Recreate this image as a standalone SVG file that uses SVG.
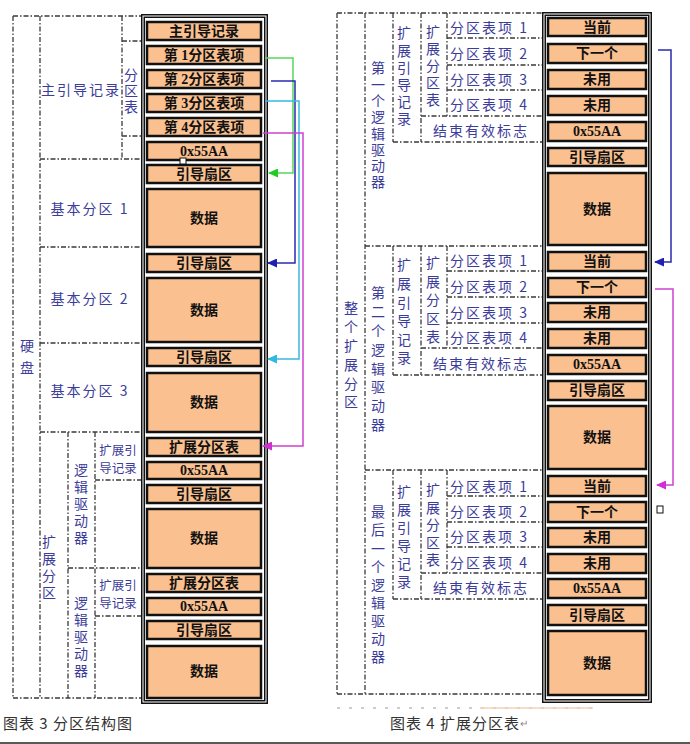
<svg xmlns="http://www.w3.org/2000/svg" width="690" height="744" viewBox="0 0 690 744">
<defs>
<style>
.dl{stroke:#3a3a3a;stroke-width:1.3;stroke-dasharray:5 2 1.5 2;fill:none}
.bx{fill:#FAC08F;stroke:#111;stroke-width:2.5}
.fo{fill:#fff;stroke:#111;stroke-width:4}
.fi{fill:none;stroke:#fff;stroke-width:1}
.bt{font-family:'Liberation Serif','Noto Sans CJK SC',serif;font-weight:bold;font-size:14px;text-anchor:middle;dominant-baseline:central;fill:#111}
.lb{font-family:'Noto Sans CJK SC',sans-serif;font-size:14px;fill:#3c3c9a;dominant-baseline:central;text-anchor:middle}
.vt{font-family:'Noto Sans CJK SC',sans-serif;font-size:14px;fill:#3c3c9a;dominant-baseline:central;text-anchor:start;writing-mode:vertical-rl}
.rl{font-family:'Noto Sans CJK SC',sans-serif;font-size:14px;fill:#3c3c9a;dominant-baseline:central;text-anchor:start;letter-spacing:2px}
.sm{font-family:'Noto Sans CJK SC',sans-serif;font-size:12.5px;fill:#3c3c9a;dominant-baseline:central;text-anchor:middle}
.cap{font-family:'Noto Sans CJK SC',sans-serif;font-size:15px;fill:#333;dominant-baseline:central;letter-spacing:1px}
.ar{fill:none;stroke-width:1.5}
</style>
<marker id="mG" markerUnits="userSpaceOnUse" markerWidth="10" markerHeight="9" refX="9" refY="4.5" orient="auto"><path d="M0,0 L10,4.5 L0,9 z" fill="#22cc22"/></marker>
<marker id="mB" markerUnits="userSpaceOnUse" markerWidth="10" markerHeight="9" refX="9" refY="4.5" orient="auto"><path d="M0,0 L10,4.5 L0,9 z" fill="#2020b0"/></marker>
<marker id="mC" markerUnits="userSpaceOnUse" markerWidth="10" markerHeight="9" refX="9" refY="4.5" orient="auto"><path d="M0,0 L10,4.5 L0,9 z" fill="#30b8e0"/></marker>
<marker id="mM" markerUnits="userSpaceOnUse" markerWidth="10" markerHeight="9" refX="9" refY="4.5" orient="auto"><path d="M0,0 L10,4.5 L0,9 z" fill="#d030d0"/></marker>
</defs>
<rect width="690" height="744" fill="#fff"/>

<!-- LEFT structure (dash-dot) -->
<g id="left-structure">
<path class="dl" d="M13,16 H142 M13,16 V698 M13,698 H142 M40,16 V698 M122,16 V159 M122,41 H142 M122,136 H142 M40,159 H142 M40,247 H142 M40,343 H142 M40,432 H142 M68,432 V698 M95,432 V698 M68,568 H142 M95,480 H142 M95,616 H142"/>
<text class="vt" x="27" y="339" style="letter-spacing:8px">硬盘</text>
<text class="lb" x="81" y="89" style="letter-spacing:2px">主引导记录</text>
<text class="vt" x="131" y="68" style="letter-spacing:2px">分区表</text>
<text class="lb" x="90" y="208" style="letter-spacing:2px">基本分区 1</text>
<text class="lb" x="90" y="298" style="letter-spacing:2px">基本分区 2</text>
<text class="lb" x="90" y="390" style="letter-spacing:2px">基本分区 3</text>
<text class="sm" x="118" y="449">扩展引</text>
<text class="sm" x="118" y="467">导记录</text>
<text class="sm" x="118" y="584">扩展引</text>
<text class="sm" x="118" y="602">导记录</text>
<text class="vt" x="81" y="463" style="letter-spacing:3px">逻辑驱动器</text>
<text class="vt" x="81" y="596" style="letter-spacing:3px">逻辑驱动器</text>
<text class="vt" x="49" y="535" style="letter-spacing:3px">扩展分区</text>
</g>

<!-- LEFT column -->
<g id="left-column">
<rect class="fo" x="143" y="16" width="123" height="686"/>
<rect class="fi" x="143" y="16" width="123" height="686"/>
</g>
<g id="L-mbr"><rect class="bx" x="147" y="22" width="114" height="18"/><text class="bt" x="204" y="31">主引导记录</text></g>
<g id="L-pt1"><rect class="bx" x="147" y="46" width="114" height="18"/><text class="bt" x="204" y="55">第 1分区表项</text></g>
<g id="L-pt2"><rect class="bx" x="147" y="70" width="114" height="18"/><text class="bt" x="204" y="79">第 2分区表项</text></g>
<g id="L-pt3"><rect class="bx" x="147" y="94" width="114" height="18"/><text class="bt" x="204" y="103">第 3分区表项</text></g>
<g id="L-pt4"><rect class="bx" x="147" y="118" width="114" height="18"/><text class="bt" x="204" y="127">第 4分区表项</text></g>
<g id="L-sig0"><rect class="bx" x="147" y="142" width="114" height="18"/><text class="bt" x="204" y="151">0x55AA</text></g>
<g id="L-boot1"><rect class="bx" x="147" y="165" width="114" height="18"/><text class="bt" x="204" y="174">引导扇区</text></g>
<g id="L-data1"><rect class="bx" x="147" y="189" width="114" height="58"/><text class="bt" x="204" y="218">数据</text></g>
<g id="L-boot2"><rect class="bx" x="147" y="254" width="114" height="18"/><text class="bt" x="204" y="263">引导扇区</text></g>
<g id="L-data2"><rect class="bx" x="147" y="278" width="114" height="64"/><text class="bt" x="204" y="310">数据</text></g>
<g id="L-boot3"><rect class="bx" x="147" y="348" width="114" height="18"/><text class="bt" x="204" y="357">引导扇区</text></g>
<g id="L-data3"><rect class="bx" x="147" y="373" width="114" height="59"/><text class="bt" x="204" y="402">数据</text></g>
<g id="L-ext1"><rect class="bx" x="147" y="438" width="114" height="18"/><text class="bt" x="204" y="447">扩展分区表</text></g>
<g id="L-sig1"><rect class="bx" x="147" y="462" width="114" height="17"/><text class="bt" x="204" y="470">0x55AA</text></g>
<g id="L-boot4"><rect class="bx" x="147" y="485" width="114" height="18"/><text class="bt" x="204" y="494">引导扇区</text></g>
<g id="L-data4"><rect class="bx" x="147" y="509" width="114" height="59"/><text class="bt" x="204" y="538">数据</text></g>
<g id="L-ext2"><rect class="bx" x="147" y="574" width="114" height="18"/><text class="bt" x="204" y="583">扩展分区表</text></g>
<g id="L-sig2"><rect class="bx" x="147" y="598" width="114" height="17"/><text class="bt" x="204" y="606">0x55AA</text></g>
<g id="L-boot5"><rect class="bx" x="147" y="621" width="114" height="18"/><text class="bt" x="204" y="630">引导扇区</text></g>
<g id="L-data5"><rect class="bx" x="147" y="646" width="114" height="52"/><text class="bt" x="204" y="671">数据</text></g>
<rect x="180" y="158" width="6" height="6" fill="#fff" stroke="#111" stroke-width="1"/>

<!-- RIGHT structure -->
<g id="right-structure">
<path class="dl" d="M337,13 H542 M337,13 V694 M337,694 H542 M365,13 V694
M393,13 V142 M421,13 V142 M447,13 V116 M447,38 H542 M447,65 H542 M447,90 H542 M421,116 H542 M393,142 H542 M365,246 H542
M393,246 V375 M421,246 V375 M447,246 V348 M447,271 H542 M447,297 H542 M447,323 H542 M421,348 H542 M393,375 H542 M365,470 H542
M393,470 V599 M421,470 V599 M447,470 V573 M447,496 H542 M447,522 H542 M447,547 H542 M421,573 H542 M393,599 H542"/>
<text class="vt" x="351" y="301" style="letter-spacing:4.8px">整个扩展分区</text>
<text class="vt" x="378" y="61" style="letter-spacing:2.3px">第一个逻辑驱动器</text>
<text class="vt" x="404" y="26" style="letter-spacing:3.2px">扩展引导记录</text>
<text class="vt" x="433" y="25" style="letter-spacing:3px">扩展分区表</text>
<text class="rl" x="450" y="27">分区表项 1</text>
<text class="rl" x="450" y="53">分区表项 2</text>
<text class="rl" x="450" y="79">分区表项 3</text>
<text class="rl" x="450" y="104">分区表项 4</text>
<text class="lb" x="481" y="130" style="letter-spacing:2px">结束有效标志</text>

<text class="vt" x="378" y="286" style="letter-spacing:4.8px">第二个逻辑驱动器</text>
<text class="vt" x="404" y="258" style="letter-spacing:4.6px">扩展引导记录</text>
<text class="vt" x="433" y="256" style="letter-spacing:4.5px">扩展分区表</text>
<text class="rl" x="450" y="260">分区表项 1</text>
<text class="rl" x="450" y="286">分区表项 2</text>
<text class="rl" x="450" y="312">分区表项 3</text>
<text class="rl" x="450" y="337">分区表项 4</text>
<text class="lb" x="481" y="363" style="letter-spacing:2px">结束有效标志</text>

<text class="vt" x="378" y="505" style="letter-spacing:4.1px">最后一个逻辑驱动器</text>
<text class="vt" x="404" y="485" style="letter-spacing:4px">扩展引导记录</text>
<text class="vt" x="433" y="483" style="letter-spacing:3.5px">扩展分区表</text>
<text class="rl" x="450" y="486">分区表项 1</text>
<text class="rl" x="450" y="511">分区表项 2</text>
<text class="rl" x="450" y="536">分区表项 3</text>
<text class="rl" x="450" y="562">分区表项 4</text>
<text class="lb" x="481" y="587" style="letter-spacing:2px">结束有效标志</text>
</g>

<!-- RIGHT column -->
<g id="right-column">
<rect class="fo" x="544" y="14" width="106" height="687"/>
<rect class="fi" x="544" y="14" width="106" height="687"/>
</g>
<g id="R1-cur"><rect class="bx" x="548" y="18" width="98" height="18"/><text class="bt" x="597" y="27">当前</text></g>
<g id="R1-next"><rect class="bx" x="548" y="44" width="98" height="19"/><text class="bt" x="597" y="53">下一个</text></g>
<g id="R1-u1"><rect class="bx" x="548" y="70" width="98" height="19"/><text class="bt" x="597" y="79">未用</text></g>
<g id="R1-u2"><rect class="bx" x="548" y="96" width="98" height="19"/><text class="bt" x="597" y="105">未用</text></g>
<g id="R1-sig"><rect class="bx" x="548" y="122" width="98" height="19"/><text class="bt" x="597" y="131">0x55AA</text></g>
<g id="R1-boot"><rect class="bx" x="548" y="148" width="98" height="18"/><text class="bt" x="597" y="157">引导扇区</text></g>
<g id="R1-data"><rect class="bx" x="548" y="173" width="98" height="72"/><text class="bt" x="597" y="209">数据</text></g>

<g id="R2-cur"><rect class="bx" x="548" y="252" width="98" height="19"/><text class="bt" x="597" y="261">当前</text></g>
<g id="R2-next"><rect class="bx" x="548" y="278" width="98" height="19"/><text class="bt" x="597" y="287">下一个</text></g>
<g id="R2-u1"><rect class="bx" x="548" y="303" width="98" height="19"/><text class="bt" x="597" y="312">未用</text></g>
<g id="R2-u2"><rect class="bx" x="548" y="329" width="98" height="19"/><text class="bt" x="597" y="338">未用</text></g>
<g id="R2-sig"><rect class="bx" x="548" y="355" width="98" height="19"/><text class="bt" x="597" y="364">0x55AA</text></g>
<g id="R2-boot"><rect class="bx" x="548" y="381" width="98" height="19"/><text class="bt" x="597" y="390">引导扇区</text></g>
<g id="R2-data"><rect class="bx" x="548" y="406" width="98" height="63"/><text class="bt" x="597" y="437">数据</text></g>

<g id="R3-cur"><rect class="bx" x="548" y="476" width="98" height="20"/><text class="bt" x="597" y="486">当前</text></g>
<g id="R3-next"><rect class="bx" x="548" y="502" width="98" height="20"/><text class="bt" x="597" y="512">下一个</text></g>
<g id="R3-u1"><rect class="bx" x="548" y="528" width="98" height="19"/><text class="bt" x="597" y="537">未用</text></g>
<g id="R3-u2"><rect class="bx" x="548" y="554" width="98" height="19"/><text class="bt" x="597" y="563">未用</text></g>
<g id="R3-sig"><rect class="bx" x="548" y="579" width="98" height="19"/><text class="bt" x="597" y="588">0x55AA</text></g>
<g id="R3-boot"><rect class="bx" x="548" y="605" width="98" height="20"/><text class="bt" x="597" y="615">引导扇区</text></g>
<g id="R3-data"><rect class="bx" x="548" y="631" width="98" height="64"/><text class="bt" x="597" y="663">数据</text></g>
<rect x="657" y="506" width="6" height="7" fill="#fff" stroke="#111" stroke-width="1"/>

<!-- connectors -->
<g id="connectors">
<polyline class="ar" stroke="#55d855" points="265,58 293,58 293,173 269,173" marker-end="url(#mG)"/>
<polyline class="ar" stroke="#2a2ab0" points="271,81 295,81 295,263 268,263" marker-end="url(#mB)"/>
<polyline class="ar" stroke="#3ab8e0" points="265,101 299,101 299,359 268,359" marker-end="url(#mC)"/>
<polyline class="ar" stroke="#d040d0" points="263,133 303,133 303,446 263,446" marker-end="url(#mM)"/>
<polyline class="ar" stroke="#2a2ab0" points="658,50 671,50 671,262 655,262" marker-end="url(#mB)"/>
<polyline class="ar" stroke="#d040d0" points="655,289 673,289 673,485 657,485" marker-end="url(#mM)"/>
</g>

<!-- faint artifacts -->
<path d="M337,708 H600" stroke="#999" stroke-width="1" stroke-dasharray="3 9" fill="none"/>
<path d="M480,708 H593" stroke="#f3d2b4" stroke-width="1.5" fill="none"/>

<!-- captions -->
<text class="cap" x="3" y="722">图表 3 分区结构图</text>
<text class="cap" x="390" y="722">图表 4 扩展分区表<tspan style="font-size:10px;fill:#888">↵</tspan></text>
<path d="M0,743 H690" stroke="#222" stroke-width="1.5"/>
</svg>
